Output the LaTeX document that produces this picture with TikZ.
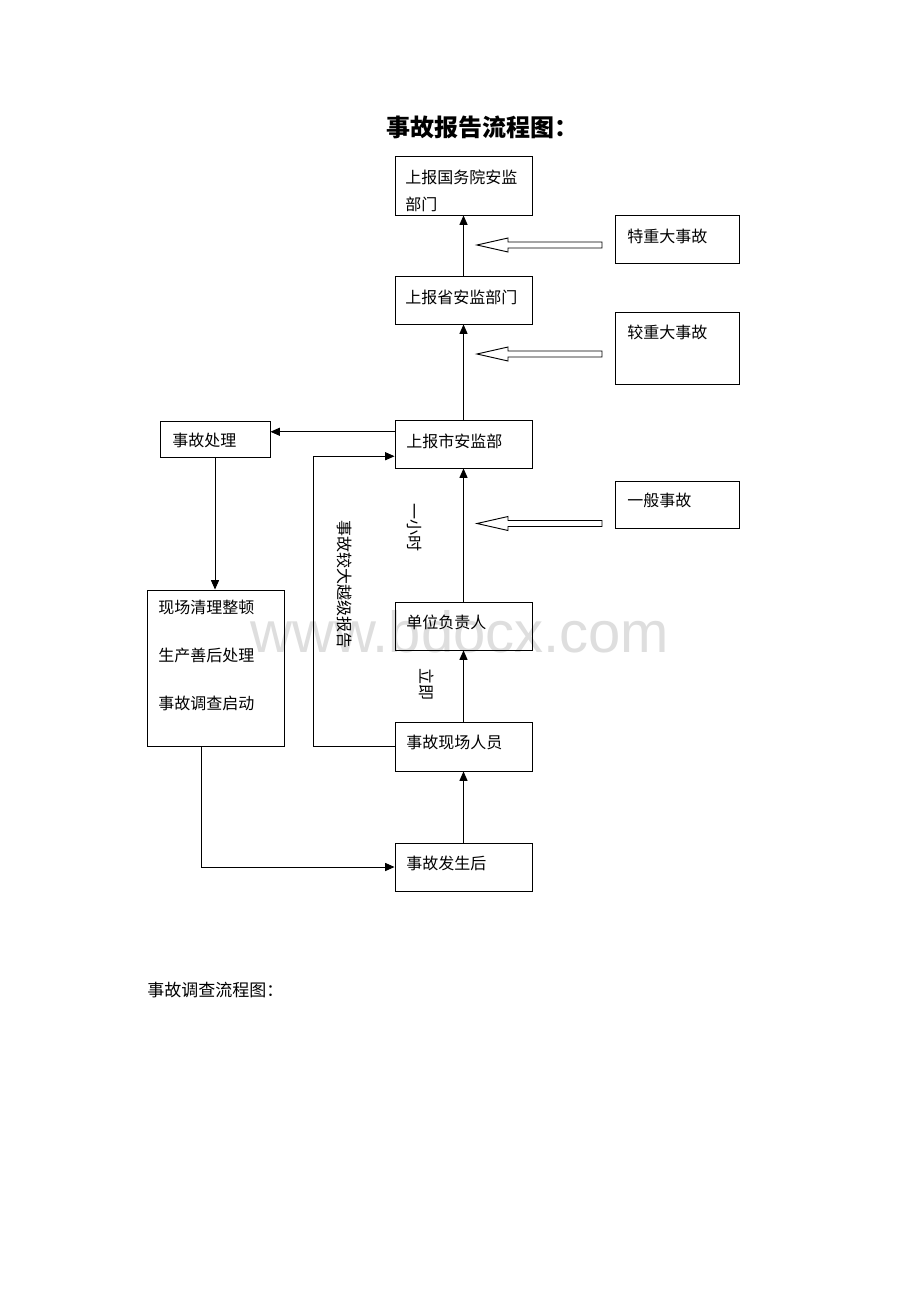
\documentclass[tikz,border=0pt]{standalone}
\usepackage{fontspec}
\setmainfont{Noto Sans CJK SC}
\newfontfamily\wmfont{Liberation Sans}
\usetikzlibrary{arrows.meta,fit,calc}
\begin{document}
\begin{tikzpicture}[x=0.75pt,y=-0.75pt,
  box/.style={draw,line width=0.7pt,inner sep=0pt},
  lbl/.style={anchor=west,inner sep=0pt,font=\fontsize{12}{14}\selectfont},
  vlbl/.style={anchor=center,inner sep=0pt,rotate=-90,font=\fontsize{12}{14}\selectfont},
  arr/.style={line width=0.7pt,-{Triangle[length=7pt,width=6pt]}},
  hollow/.style={draw,line width=0.7pt,fill=white}]
\useasboundingbox (0,0) rectangle (920,1302);
\fill[white] (0,0) rectangle (920,1302);

% watermark
\node[anchor=base west,inner sep=0pt,text=black!13,font=\wmfont\fontsize{43.5}{46}\selectfont] (wm) at (250,652) {www.bdocx.com};

% title
\node[anchor=west,inner sep=0pt,font=\fontsize{18}{21}\selectfont\bfseries] (title) at (386,127) {事故报告流程图：};

% boxes
\node[box,fit={(395,156) (532,215)}] (b1) {};
\node[box,fit={(615,215) (739,263)}] (t1) {};
\node[box,fit={(395,276) (532,324)}] (b2) {};
\node[box,fit={(615,312) (739,384)}] (t2) {};
\node[box,fit={(395,420) (532,468)}] (b3) {};
\node[box,fit={(160,421) (270,457)}] (d) {};
\node[box,fit={(615,481) (739,528)}] (t3) {};
\node[box,fit={(395,602) (532,650)}] (b4) {};
\node[box,fit={(147,590) (284,746)}] (c) {};
\node[box,fit={(395,722) (532,771)}] (b5) {};
\node[box,fit={(395,843) (532,891)}] (b6) {};

% labels
\node[lbl] (l1a) at (405,177) {上报国务院安监};
\node[lbl] (l1b) at (405,204) {部门};
\node[lbl] (lt1) at (627,236) {特重大事故};
\node[lbl] (l2) at (405,297) {上报省安监部门};
\node[lbl] (lt2) at (627,332) {较重大事故};
\node[lbl] (l3) at (406,441) {上报市安监部};
\node[lbl] (ld) at (172,440) {事故处理};
\node[lbl] (lt3) at (627,500) {一般事故};
\node[lbl] (l4) at (406,622) {单位负责人};
\node[lbl] (lc1) at (158,607) {现场清理整顿};
\node[lbl] (lc2) at (158,655) {生产善后处理};
\node[lbl] (lc3) at (158,703) {事故调查启动};
\node[lbl] (l5) at (406,742) {事故现场人员};
\node[lbl] (l6) at (406,863) {事故发生后};

% vertical labels
\node[vlbl] (v1) at (415,527) {一小时};
\node[vlbl] (v2) at (345,584) {事故较大越级报告};
\node[vlbl] (v3) at (427,684) {立即};

% main chain
\draw[arr] (b2.north) -- (b1.south);
\draw[arr] (b3.north) -- (b2.south);
\draw[arr] (b4.north) -- (b3.south);
\draw[arr] (b5.north) -- (b4.south);
\draw[arr] (b6.north) -- (b5.south);

% to accident handling
\coordinate (p3a) at ($(b3.north west)!0.25!(b3.south west)$);
\draw[arr] (p3a) -- (d.east |- p3a);
\draw[arr] (d.south) -- (c.north -| d.south);

% escalation
\coordinate (p3b) at ($(b3.north west)!0.75!(b3.south west)$);
\coordinate (esc) at (313,0);
\draw[arr] (b5.west) -- (b5.west -| esc) -- (esc |- p3b) -- (p3b);

% cleanup back to occurrence
\coordinate (cb) at ($(c.south west)!0.4!(c.south east)$);
\draw[arr] (cb) |- (b6.west);

% hollow arrows
\foreach \yy in {245,354,523.5} {
  \draw[hollow] (602,\yy-3) -- (508,\yy-3) -- (508,\yy-7) -- (477,\yy) -- (508,\yy+7) -- (508,\yy+3) -- (602,\yy+3) -- cycle;
}

% second title
\node[anchor=west,inner sep=0pt,font=\fontsize{12.75}{15}\selectfont] (title2) at (147,990) {事故调查流程图：};
\end{tikzpicture}
\end{document}
